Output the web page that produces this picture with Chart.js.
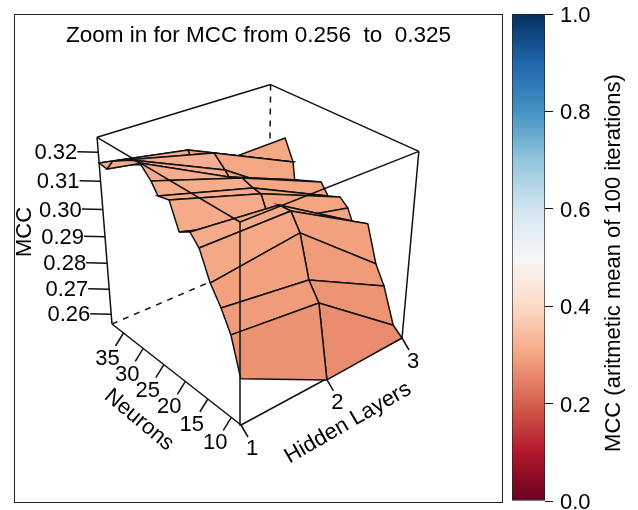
<!DOCTYPE html>
<html>
<head>
<meta charset="utf-8">
<title>MCC surface</title>
<script src="https://cdn.jsdelivr.net/npm/chart.js@4"></script>
<style>
    html, body { margin: 0; width: 638px; height: 510px; overflow: hidden; background: #fff; }
    canvas { position: absolute; left: 0; top: 0; }
    #colorbar { top: -20px; }
    #frame { position: absolute; left: 14px; top: 14px; width: 487px; height: 487px; border: 1px solid #222; }
</style>
</head>
<body>
<div id="frame"></div>
<canvas id="surface" width="638" height="510"></canvas>
<canvas id="colorbar" width="638" height="550"></canvas>
<script>
// Values. Each layer has its own neuron positions
const layers = [1, 2, 3];
const neurons1 = [8.0, 9.9, 11.8, 13.9, 16.0, 17.8, 20.1, 22.0, 24.4, 25.8, 28.1, 29.6, 34.5, 36.1, 38.0, 38.0];
const neurons2 = [7.9, 10.1, 12.2, 14.2, 16.1, 18.5, 20.3, 22.2, 23.9, 26.2, 29.1, 30.0, 32.4, 38.1, 38.6, 34.6];
const neurons3 = [8.0, 9.9, 12.3, 14.2, 16.3, 19.5, 20.5, 22.2, 24.7, 26.3, 31.4, 31.8, 32.6, 33.3, 32.6, 34.5];
const mcc1 = [0.2732, 0.2863, 0.2933, 0.2993, 0.3087, 0.3121, 0.3098, 0.3184, 0.3175, 0.3211, 0.3249, 0.3245, 0.3200, 0.3159, 0.3163, 0.3163];
const mcc2 = [0.2557, 0.2823, 0.2883, 0.3029, 0.3086, 0.3084, 0.3007, 0.3088, 0.3093, 0.3107, 0.3085, 0.3102, 0.3141, 0.3086, 0.3100, 0.3069];
const mcc3 = [0.2560, 0.2589, 0.2719, 0.2785, 0.2917, 0.2896, 0.2936, 0.2962, 0.2942, 0.2981, 0.2943, 0.2888, 0.3002, 0.2992, 0.3002, 0.3078];

const neuronTicks = [10, 15, 20, 25, 30, 35];
const mccTicks = [0.26, 0.27, 0.28, 0.29, 0.30, 0.31, 0.32];
const colorbarTicks = [0, 0.2, 0.4, 0.6, 0.8, 1];
const palette = ['#67001F', '#B2182B', '#D6604D', '#F4A582', '#FDDBC7', '#F7F7F7', '#D1E5F0', '#92C5DE', '#4393C3', '#2166AC', '#053061'];

const neuronRange = [8, 38];
const mccRange = [0.256, 0.325];
const fontFamily = '"Liberation Sans", Arial, sans-serif';
const lineColor = '#111';

// Perspective view of the box: four corners on the page and how far away the far ends are
const corner = { front: [241, 425], layerEnd: [402, 338], neuronEnd: [112, 324], top: [240, 222] };
const depth = { layer: 1.13, neuron: 1.138, mcc: 0.888 };

function projectUnit(u, v, w) {
    const o = corner.front;
    const axis = (p, k, i) => k * p[i] - o[i];
    const d = 1 + u * (depth.layer - 1) + v * (depth.neuron - 1) + w * (depth.mcc - 1);
    const at = i => (o[i]
        + u * axis(corner.layerEnd, depth.layer, i)
        + v * axis(corner.neuronEnd, depth.neuron, i)
        + w * axis(corner.top, depth.mcc, i)) / d;
    return { x: at(0), y: at(1) };
}

function project(layer, neuron, mcc) {
    return projectUnit(
        (layer - layers[0]) / (layers[2] - layers[0]),
        (neuron - neuronRange[0]) / (neuronRange[1] - neuronRange[0]),
        (mcc - mccRange[0]) / (mccRange[1] - mccRange[0])
    );
}

function shift(p, dx, dy) {
    return { x: p.x + dx, y: p.y + dy };
}

// Same ramp as the colour bar
function rampColor(value) {
    const pos = Math.min(value, 0.9999) * (palette.length - 1);
    const i = Math.floor(pos);
    const hex = c => [1, 3, 5].map(n => parseInt(c.substr(n, 2), 16));
    const a = hex(palette[i]), b = hex(palette[i + 1]);
    const mix = a.map((c, k) => Math.round(c + (b[k] - c) * (pos - i)));
    return `rgb(${mix.join(',')})`;
}

function lineSet(points, extra) {
    return Object.assign({
        data: points,
        showLine: true,
        borderColor: lineColor,
        borderWidth: 1.5,
        pointRadius: 0,
        tension: 0,
        clip: false
    }, extra);
}

const neuronsBy = [neurons1, neurons2, neurons3];
const mccBy = [mcc1, mcc2, mcc3];

// First dataset ends up on top, so front box edges go first, then the surface front to back
const datasets = [];

[[[0, 1, 1], [0, 0, 1]], [[0, 0, 1], [1, 0, 1]], [[0, 0, 0], [0, 0, 1]], [[1, 0, 0], [1, 0, 1]]].forEach(e => {
    datasets.push(lineSet(e.map(c => projectUnit(...c))));
});

for (let row = 0; row < neurons1.length - 1; row++) {
    for (let col = 0; col < layers.length - 1; col++) {
        const cells = [[col, row], [col + 1, row], [col + 1, row + 1], [col, row + 1], [col, row]];
        const pts = cells.map(([c, r]) => project(layers[c], neuronsBy[c][r], mccBy[c][r]));
        const mean = cells.slice(0, 4).reduce((s, [c, r]) => s + mccBy[c][r], 0) / 4;
        datasets.push(lineSet(pts, { faceColor: rampColor(mean) }));
    }
}

// Tick marks
const neuronTickEnds = neuronTicks.map(n => project(layers[0], n, mccRange[0]));
neuronTickEnds.forEach(p => datasets.push(lineSet([p, shift(p, -8, 13)])));
const layerTickEnds = layers.map(l => project(l, neuronRange[0], mccRange[0]));
layerTickEnds.forEach(p => datasets.push(lineSet([p, shift(p, 7, 12)])));
const mccTickEnds = mccTicks.map(m => project(layers[0], neuronRange[1], m));
mccTickEnds.forEach(p => datasets.push(lineSet([p, shift(p, -21, -0.5)])));

// Rest of the box, hidden edges dashed and behind the surface
[[[0, 1, 0], [0, 1, 1]], [[0, 1, 1], [1, 1, 1]], [[1, 1, 1], [1, 0, 1]], [[0, 0, 0], [1, 0, 0]], [[0, 0, 0], [0, 1, 0]]].forEach(e => {
    datasets.push(lineSet(e.map(c => projectUnit(...c))));
});
[[[1, 1, 1], [1, 1, 0]], [[0, 1, 0], [1, 1, 0]], [[1, 0, 0], [1, 1, 0]]].forEach(e => {
    datasets.push(lineSet(e.map(c => projectUnit(...c)), { borderDash: [6, 6] }));
});

// Fill each facet just before its outline is stroked
const facetFill = {
    id: 'facetFill',
    beforeDatasetDraw(chart, args) {
        const ds = chart.data.datasets[args.index];
        if (!ds.faceColor) return;
        const ctx = chart.ctx;
        ctx.save();
        ctx.beginPath();
        args.meta.data.forEach((pt, i) => i ? ctx.lineTo(pt.x, pt.y) : ctx.moveTo(pt.x, pt.y));
        ctx.closePath();
        ctx.fillStyle = ds.faceColor;
        ctx.fill();
        ctx.restore();
    }
};

function drawText(chart, text, p, align, angle, size) {
    const { ctx, scales } = chart;
    ctx.save();
    ctx.translate(scales.x.getPixelForValue(p.x), scales.y.getPixelForValue(p.y));
    ctx.rotate((angle || 0) * Math.PI / 180);
    ctx.font = (size || 22) + 'px ' + fontFamily;
    ctx.fillStyle = '#000';
    ctx.textAlign = align || 'center';
    ctx.textBaseline = 'middle';
    ctx.fillText(text, 0, 0);
    ctx.restore();
}

const surfaceText = {
    id: 'surfaceText',
    afterDraw(chart) {
        drawText(chart, 'Zoom in for MCC from 0.256  to  0.325', { x: 258.5, y: 36 }, 'center', 0, 22.5);
        neuronTicks.forEach((n, i) => drawText(chart, String(n), shift(neuronTickEnds[i], -16, 26)));
        layers.forEach((l, i) => drawText(chart, String(l), shift(layerTickEnds[i], 11, 24)));
        mccTicks.forEach((m, i) => drawText(chart, m.toFixed(2), shift(mccTickEnds[i], -21, 1), 'right'));
        drawText(chart, 'Neurons', { x: 139, y: 420 }, 'center', 40);
        drawText(chart, 'Hidden Layers', { x: 348, y: 423 }, 'center', -30);
        drawText(chart, 'MCC', { x: 25, y: 232 }, 'center', -90);
        drawText(chart, 'MCC (aritmetic mean of 100 iterations)', { x: 614, y: 263 }, 'center', -90);
    }
};

new Chart(document.getElementById('surface'), {
    type: 'scatter',
    data: { datasets: datasets },
    options: {
        responsive: false,
        animation: false,
        layout: { padding: 0 },
        plugins: { legend: { display: false }, tooltip: { enabled: false } },
        scales: {
            x: { type: 'linear', min: 0, max: 638, display: false },
            y: { type: 'linear', min: 0, max: 510, reverse: true, display: false }
        }
    },
    plugins: [facetFill, surfaceText]
});

new Chart(document.getElementById('colorbar'), {
    type: 'bar',
    data: {
        labels: ['MCC'],
        datasets: [{
            data: [[0, 1]],
            barPercentage: 1,
            categoryPercentage: 1,
            borderColor: '#222',
            borderWidth: 1,
            borderSkipped: false,
            backgroundColor(context) {
                const area = context.chart.chartArea;
                if (!area) return palette[0];
                const g = context.chart.ctx.createLinearGradient(0, area.bottom, 0, area.top);
                palette.forEach((c, i) => g.addColorStop(i / (palette.length - 1), c));
                return g;
            }
        }]
    },
    options: {
        responsive: false,
        animation: false,
        // canvas sits 20px above the page so the 0.0 and 1.0 labels keep their room
        layout: { padding: { left: 512, top: 34, bottom: 29, right: 0 } },
        plugins: { legend: { display: false }, tooltip: { enabled: false } },
        scales: {
            x: { display: false },
            y: {
                position: 'right',
                min: 0,
                max: 1,
                afterBuildTicks(axis) { axis.ticks = colorbarTicks.map(v => ({ value: v })); },
                afterFit(axis) { axis.width = 93; },
                grid: { drawOnChartArea: false, color: lineColor, tickLength: 8, lineWidth: 1 },
                border: { display: false },
                ticks: {
                    color: '#000',
                    padding: 7,
                    labelOffset: 2,
                    font: { family: fontFamily, size: 22 },
                    callback: v => v.toFixed(1)
                }
            }
        }
    }
});
</script>
</body>
</html>
